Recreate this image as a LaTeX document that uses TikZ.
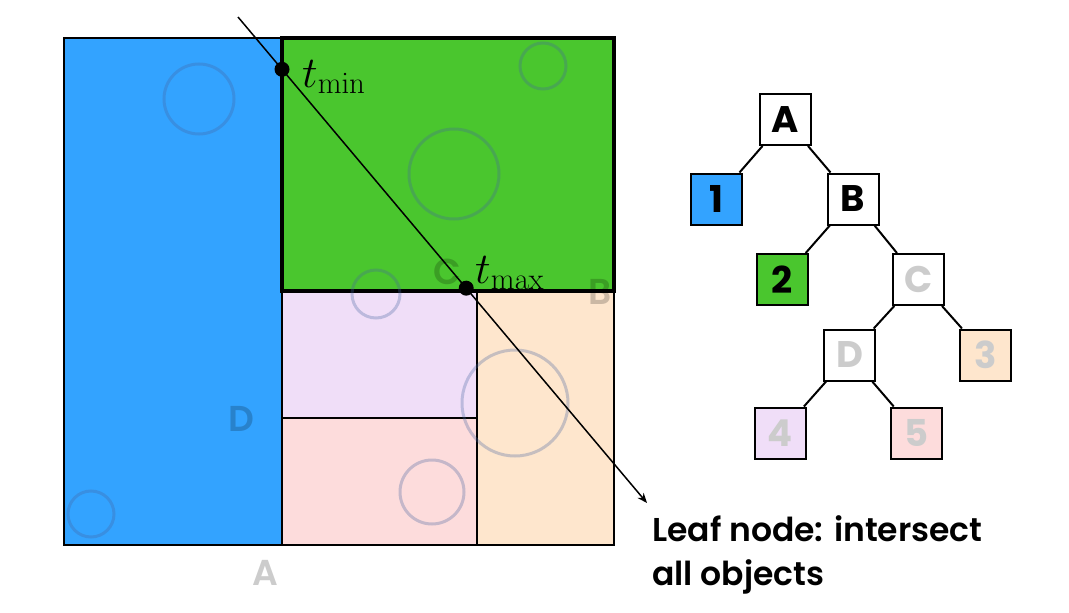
\RequirePackage{fix-cm}
\documentclass[tikz,border=0pt]{standalone}
\usepackage[no-math]{fontspec}
\setmainfont{Poppins}[BoldFont=* SemiBold]
\newfontfamily\popbold{Poppins Bold}
\usetikzlibrary{calc,arrows.meta}
\definecolor{cblue}{RGB}{51,163,255}
\definecolor{cgreen}{RGB}{74,198,46}
\definecolor{cpurple}{RGB}{240,222,248}
\definecolor{cpink}{RGB}{253,220,220}
\definecolor{cpeach}{RGB}{254,230,205}
\definecolor{ringc}{RGB}{70,100,160}
\definecolor{lightlbl}{RGB}{204,204,204}
\begin{document}
\begin{tikzpicture}[x=1pt,y=-1pt,
  region/.style={draw=black,line width=1.6pt},
  ring/.style={draw=ringc,draw opacity=0.3,line width=3pt},
  maplbl/.style={font=\fontsize{36}{36}\selectfont\bfseries,text=black,text opacity=0.2,inner sep=0},
  treebox/.style={draw=black,line width=2pt,minimum size=51pt,inner sep=0,font=\fontsize{37}{37}\selectfont\popbold},
  treeedge/.style={line width=2pt},
  dot/.style={circle,fill=black,minimum size=15pt,inner sep=0},
  leaftxt/.style={anchor=base west,inner sep=0,font=\fontsize{33}{33}\selectfont\bfseries},
  tlbl/.style={anchor=base west,inner sep=0,font=\fontsize{44}{44}\selectfont}
]
\useasboundingbox (0,0) rectangle (1069,613);
\fill[white] (0,0) rectangle (1069,613);

% regions
\filldraw[region,fill=cblue] (64,38) rectangle (282,545);
\filldraw[region,fill=cpurple] (282,291) rectangle (477,418);
\filldraw[region,fill=cpink] (282,418) rectangle (477,545);
\filldraw[region,fill=cpeach] (477,291) rectangle (614,545);
\filldraw[fill=cgreen,draw=black,line width=4pt] (282,38) rectangle (614,291);

% objects
\draw[ring] (199,99) circle[radius=35];
\draw[ring] (91,514) circle[radius=23];
\draw[ring] (543,66) circle[radius=23];
\draw[ring] (454,174) circle[radius=45];
\draw[ring] (376,294) circle[radius=24];
\draw[ring] (515,403) circle[radius=53];
\draw[ring] (432,492) circle[radius=32];

% split labels
\node[maplbl] (lD) at (241,419) {D};
\node[maplbl] (lA) at (265,573) {A};
\node[maplbl] (lB) at (600,292) {B};
\node[maplbl] (lC) at (447,272) {C};

% ray
\coordinate (s) at (238,17);
\coordinate (e) at (647,503);
\draw[line width=1.5pt,-{Stealth[length=10pt,width=8pt]}] (s) -- (e);
\node[dot] (tmin) at ($(s)!0.1076!(e)$) {};
\node[dot] (tmax) at ($(s)!0.558!(e)$) {};
\node[tlbl] (tminl) at (302,87) {$t_{\min}$};
\node[tlbl] (tmaxl) at (475,283) {$t_{\max}$};

% tree
\node[treebox] (A) at (785.5,119.5) {A};
\node[treebox,fill=cblue] (n1) at (716.5,199) {1};
\node[treebox] (B) at (853,199) {B};
\node[treebox,fill=cgreen] (n2) at (782.5,279.5) {2};
\node[treebox,text=lightlbl] (C) at (918.5,279.5) {C};
\node[treebox,text=lightlbl] (D) at (849.5,355) {D};
\node[treebox,fill=cpeach,text=lightlbl] (n3) at (985.5,355) {3};
\node[treebox,fill=cpurple,text=lightlbl] (n4) at (780.5,433) {4};
\node[treebox,fill=cpink,text=lightlbl] (n5) at (916.5,433) {5};
\draw[treeedge] (A) -- (n1);
\draw[treeedge] (A) -- (B);
\draw[treeedge] (B) -- (n2);
\draw[treeedge] (B) -- (C);
\draw[treeedge] (C) -- (D);
\draw[treeedge] (C) -- (n3);
\draw[treeedge] (D) -- (n4);
\draw[treeedge] (D) -- (n5);

% caption
\node[leaftxt] (leaf1) at (652,541) {Leaf node: intersect};
\node[leaftxt] (leaf2) at (652,585) {all objects};
\end{tikzpicture}
\end{document}
